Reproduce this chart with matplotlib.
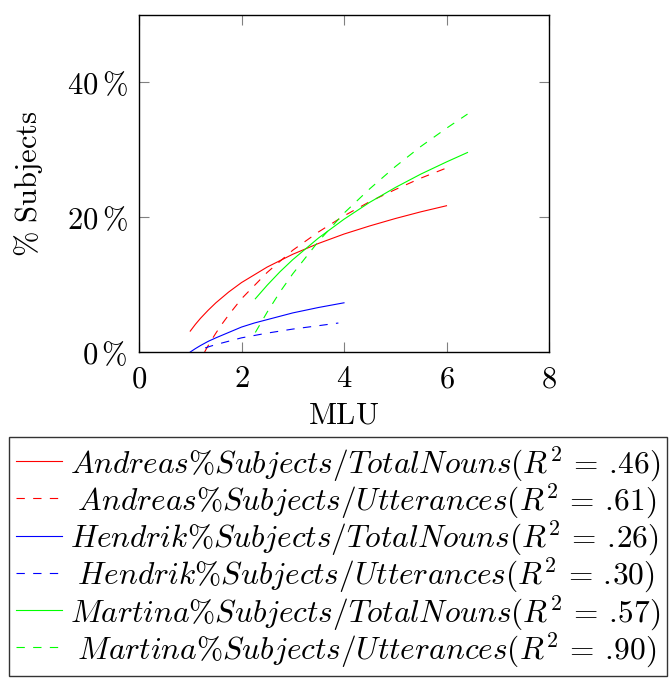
import matplotlib
matplotlib.use("Agg")
import matplotlib.pyplot as plt

plt.rcParams['mathtext.fontset'] = 'cm'
plt.rcParams['font.family'] = 'serif'
plt.rcParams['font.serif'] = ['DejaVu Serif']

# values (MLU -> % subjects)
andreas_tn_x = [1.0, 1.1, 1.2, 1.35, 1.5, 1.75, 2.0, 2.5, 3.0, 3.5, 4.0, 4.5, 5.0, 5.5, 6.0]
andreas_tn_y = [3.1, 4.1, 5.0, 6.2, 7.3, 8.9, 10.3, 12.6, 14.5, 16.1, 17.5, 18.7, 19.8, 20.8, 21.7]

andreas_ut_x = [1.28, 1.35, 1.4, 1.5, 1.6, 1.75, 2.0, 2.5, 3.0, 3.5, 4.0, 4.5, 5.0, 5.5, 6.0]
andreas_ut_y = [0.0, 0.95, 1.6, 2.8, 3.95, 5.5, 7.9, 11.8, 15.1, 17.8, 20.2, 22.3, 24.1, 25.8, 27.3]

hendrik_tn_x = [1.0, 1.1, 1.2, 1.35, 1.5, 1.75, 2.0, 2.25, 2.5, 3.0, 3.5, 4.0]
hendrik_tn_y = [0.0, 0.5, 0.96, 1.58, 2.1, 2.9, 3.7, 4.3, 4.8, 5.8, 6.6, 7.3]

hendrik_ut_x = [1.29, 1.4, 1.5, 1.75, 2.0, 2.5, 3.0, 3.5, 3.89]
hendrik_ut_y = [0.6, 0.87, 1.1, 1.6, 2.1, 2.8, 3.4, 3.9, 4.3]

martina_tn_x = [2.27, 2.5, 2.75, 3.0, 3.5, 4.0, 4.5, 5.0, 5.5, 6.0, 6.41]
martina_tn_y = [7.9, 9.9, 11.9, 13.7, 16.9, 19.7, 22.2, 24.4, 26.4, 28.2, 29.6]

martina_ut_x = [2.27, 2.5, 2.75, 3.0, 3.5, 4.0, 4.5, 5.0, 5.5, 6.0, 6.41]
martina_ut_y = [2.9, 5.9, 8.9, 11.6, 16.4, 20.6, 24.2, 27.5, 30.5, 33.2, 35.3]

# utterance rows are centred in the legend column, hence the leading space
labels = [
    r'$Andreas\%Subjects/TotalNouns(R^2\,=\,.\!46)$',
    r'$\;Andreas\%Subjects/Utterances(R^2\,=\,.\!61)$',
    r'$Hendrik\%Subjects/TotalNouns(R^2\,=\,.\!26)$',
    r'$\;Hendrik\%Subjects/Utterances(R^2\,=\,.\!30)$',
    r'$Martina\%Subjects/TotalNouns(R^2\,=\,.\!57)$',
    r'$\;Martina\%Subjects/Utterances(R^2\,=\,.\!90)$',
]

xticks = [0, 2, 4, 6, 8]
yticks = [0, 20, 40]

fs = 22
lw = 0.8
dash = (0, (7.5, 7.5))

fig = plt.figure(figsize=(6.7, 6.85), dpi=100)
ax = fig.add_axes([139 / 670, 1 - 352 / 685, 410 / 670, 337 / 685])

ax.plot(andreas_tn_x, andreas_tn_y, color='#ff0000', lw=lw, label=labels[0])
ax.plot(andreas_ut_x, andreas_ut_y, color='#ff0000', lw=lw, ls=dash, label=labels[1])
ax.plot(hendrik_tn_x, hendrik_tn_y, color='#0000ff', lw=lw, label=labels[2])
ax.plot(hendrik_ut_x, hendrik_ut_y, color='#0000ff', lw=lw, ls=dash, label=labels[3])
ax.plot(martina_tn_x, martina_tn_y, color='#00ff00', lw=lw, label=labels[4])
ax.plot(martina_ut_x, martina_ut_y, color='#00ff00', lw=lw, ls=dash, label=labels[5])

ax.set_xlim(0, 8)
ax.set_ylim(0, 50)
ax.set_xticks(xticks)
ax.set_xticklabels([r'$%d$' % t for t in xticks])
ax.set_yticks(yticks)
ax.set_yticklabels([r'$%d\,\%%$' % t for t in yticks])
ax.tick_params(direction='in', length=7.5, width=0.8, color='#808080',
               top=True, right=True, labelsize=fs, pad=8)
for s in ax.spines.values():
    s.set_linewidth(1.0)

ax.set_xlabel(r'$\mathrm{MLU}$', fontsize=fs, labelpad=4)
ax.set_ylabel(r'$\mathrm{\%\ Subjects}$', fontsize=fs, labelpad=16)

leg = fig.legend(loc='upper left', bbox_to_anchor=(9 / 670, 1 - 437 / 685),
                 fontsize=22.6, frameon=True, fancybox=False, edgecolor='black',
                 handlelength=1.46, handletextpad=0.26, labelspacing=-0.05,
                 borderpad=0.22, borderaxespad=0)
leg.get_frame().set_linewidth(1.0)

fig.savefig('out.png', dpi=100)
